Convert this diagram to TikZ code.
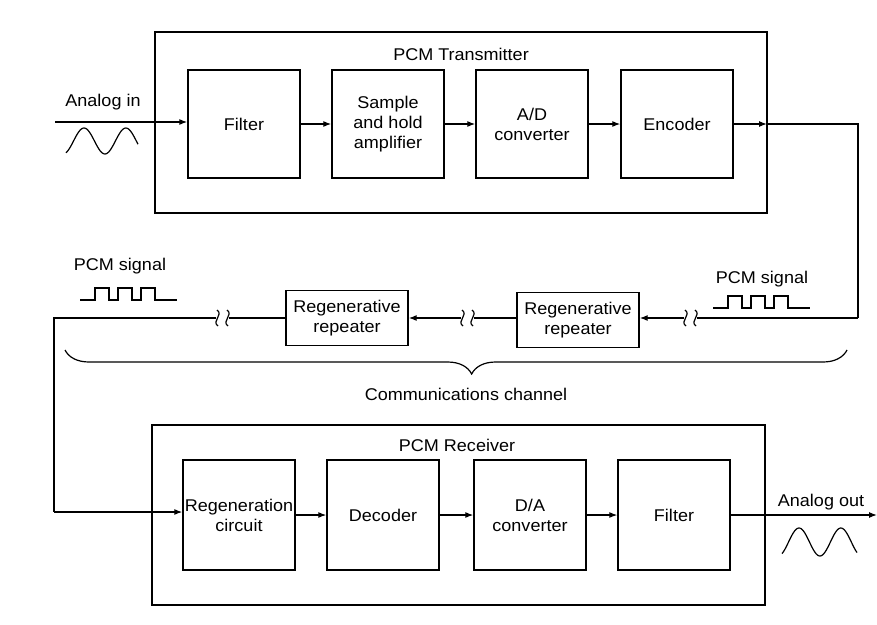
\documentclass[tikz,border=0pt]{standalone}
\usepackage{fontspec}
\setmainfont{Liberation Sans}[FakeStretch=1.06]
\usetikzlibrary{arrows.meta,decorations.pathreplacing}
\newcommand\brkmark[1]{%
  \draw[wire] ([shift={(-5,-8)}]#1) .. controls ([shift={(2,-3)}]#1) and ([shift={(-11,3)}]#1) .. ([shift={(-4,8)}]#1);
  \draw[wire] ([shift={(5,-8)}]#1) .. controls ([shift={(12,-3)}]#1) and ([shift={(-1,3)}]#1) .. ([shift={(6,8)}]#1);}
\begin{document}
\begin{tikzpicture}[x=1pt,y=-1pt,
  font=\fontsize{17}{20}\selectfont,
  blk/.style={draw,line width=1.4pt,align=center,inner sep=0pt,minimum width=112pt,minimum height=108pt},
  rblk/.style={blk,minimum height=110pt},
  rep/.style={draw,line width=1.4pt,align=center,inner sep=0pt,minimum width=122pt,minimum height=55pt},
  frame/.style={draw,line width=1.4pt},
  wire/.style={line width=1.2pt},
  arr/.style={wire,-{Latex[length=8pt,width=6pt]}},
  lbl/.style={inner sep=0pt,align=center}]
\useasboundingbox (0,0) rectangle (877,624);
% transmitter
\draw[frame] (155,32) rectangle (767,213);
\node[lbl] (ttl) at (461,54) {PCM Transmitter};
\node[blk] (filt) at (244,124) {Filter};
\node[blk] (sh) at (388,124) {Sample\\and hold\\amplifier};
\node[blk] (ad) at (532,124) {A/D\\converter};
\node[blk] (enc) at (677,124) {Encoder};
\coordinate (ain) at (55,122);
\coordinate (tedge) at (767,124);
\coordinate (tc) at (858,124);
\coordinate (bc) at (858,318);
\node[lbl] (alin) at (103,102) {Analog in};
\draw[arr] (ain) -- (filt.west |- ain);
\draw[arr] (filt) -- (sh);
\draw[arr] (sh) -- (ad);
\draw[arr] (ad) -- (enc);
\draw[arr] (enc) -- (tedge);
\draw[wire] (tedge) -- (tc) -- (bc);
\draw[wire] plot[domain=66:138,samples=60] (\x,{141-13*sin(90+(\x-84)*8.6)});
% channel
\node[rep] (rr1) at (347,318) {Regenerative\\repeater};
\node[rep] (rr2) at (578,320) {Regenerative\\repeater};
\coordinate (b1) at (690,318);
\coordinate (b2) at (467,318);
\coordinate (b3) at (222,318);
\coordinate (lc) at (54,318);
\coordinate (lb) at (54,512);
\draw[wire] (bc) -- ([xshift=7pt]b1);
\brkmark{b1}
\draw[arr] ([xshift=-6pt]b1) -- (rr2.east |- b1);
\draw[wire] (rr2.west |- b2) -- ([xshift=7pt]b2);
\brkmark{b2}
\draw[arr] ([xshift=-6pt]b2) -- (rr1.east |- b2);
\draw[wire] (rr1.west |- b3) -- ([xshift=7pt]b3);
\brkmark{b3}
\draw[wire] ([xshift=-6pt]b3) -- (lc) -- (lb);
\node[lbl] (ps1) at (120,266) {PCM signal};
\node[lbl] (ps2) at (762,279) {PCM signal};
\draw[wire] (80,300) -- (95,300) -- (95,288) -- (109,288) -- (109,300) -- (118,300) -- (118,288) -- (132,288) -- (132,300) -- (141,300) -- (141,288) -- (155,288) -- (155,300) -- (177,300);
\draw[wire] (713,308) -- (728,308) -- (728,296) -- (742,296) -- (742,308) -- (751,308) -- (751,296) -- (765,296) -- (765,308) -- (774,308) -- (774,296) -- (788,296) -- (788,308) -- (810,308);
\draw[wire,decorate,decoration={brace,mirror,amplitude=24pt,aspect=0.52}] (65,350) -- (847,350);
\node[lbl] (cc) at (466,394) {Communications channel};
% receiver
\draw[frame] (152,425) rectangle (765,605);
\node[lbl] (rttl) at (457,445) {PCM Receiver};
\node[rblk] (regen) at (239,515) {Regeneration\\circuit};
\node[rblk] (dec) at (383,515) {Decoder};
\node[rblk] (da) at (530,515) {D/A\\converter};
\node[rblk] (filt2) at (674,515) {Filter};
\coordinate (aout) at (877,515);
\draw[arr] (lb) -- (regen.west |- lb);
\draw[arr] (regen) -- (dec);
\draw[arr] (dec) -- (da);
\draw[arr] (da) -- (filt2);
\draw[arr] (filt2) -- (aout);
\node[lbl] (alout) at (821,502) {Analog out};
\draw[wire] plot[domain=782:857,samples=60] (\x,{542-14*sin(90+(\x-799)*8.6)});
\end{tikzpicture}
\end{document}
